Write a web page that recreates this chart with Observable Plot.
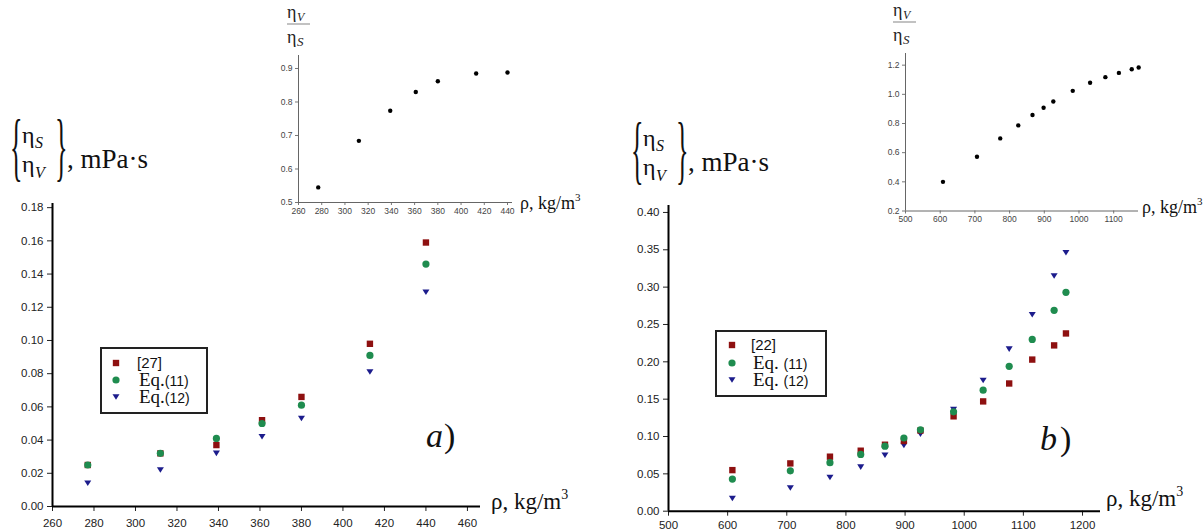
<!DOCTYPE html>
<html><head><meta charset="utf-8">
<script src="https://cdn.jsdelivr.net/npm/d3@7"></script>
<script src="https://cdn.jsdelivr.net/npm/@observablehq/plot@0.6"></script>
<style>
html,body{margin:0;padding:0;background:#fff;}
#root{position:relative;width:1204px;height:531px;overflow:hidden;background:#fff;}
.serif{font-family:"Liberation Serif","Times New Roman",Times,serif;}
.sans{font-family:"Liberation Sans",Arial,Helvetica,sans-serif;}
</style></head><body><div id="root"></div>
<script>
// ---- Panel a data ----
const rhoA = [277, 312, 339, 361, 380, 413, 440];
const ref27 = [0.025, 0.032, 0.037, 0.052, 0.066, 0.098, 0.159];
const eq11A = [0.025, 0.032, 0.041, 0.050, 0.061, 0.091, 0.146];
const eq12A = [0.014, 0.022, 0.032, 0.042, 0.053, 0.081, 0.129];
const ratioA = [0.545, 0.684, 0.774, 0.830, 0.862, 0.885, 0.888];
const xTicksA = [260, 280, 300, 320, 340, 360, 380, 400, 420, 440, 460];
const yTicksA = [0, 0.02, 0.04, 0.06, 0.08, 0.10, 0.12, 0.14, 0.16, 0.18];
const xTicksInsetA = [260, 280, 300, 320, 340, 360, 380, 400, 420, 440];
const yTicksInsetA = [0.5, 0.6, 0.7, 0.8, 0.9];
const legendA = ["[27]", "Eq.", "(11)", "Eq.", "(12)"];

// ---- Panel b data ----
const rhoB = [608, 706, 773, 825, 866, 898, 926, 982, 1032, 1076, 1115, 1152, 1172];
const ref22 = [0.055, 0.064, 0.073, 0.081, 0.089, 0.094, 0.108, 0.127, 0.147, 0.171, 0.203, 0.222, 0.238];
const eq11B = [0.043, 0.054, 0.065, 0.076, 0.087, 0.098, 0.109, 0.133, 0.162, 0.194, 0.230, 0.269, 0.293];
const eq12B = [0.017, 0.031, 0.045, 0.059, 0.075, 0.088, 0.103, 0.136, 0.175, 0.217, 0.263, 0.315, 0.346];
const ratioB = [0.40, 0.572, 0.698, 0.787, 0.858, 0.908, 0.951, 1.024, 1.079, 1.118, 1.147, 1.172, 1.184];
const xTicksB = [500, 600, 700, 800, 900, 1000, 1100, 1200];
const yTicksB = [0, 0.05, 0.10, 0.15, 0.20, 0.25, 0.30, 0.35, 0.40];
const xTicksInsetB = [500, 600, 700, 800, 900, 1000, 1100];
const yTicksInsetB = [0.2, 0.4, 0.6, 0.8, 1.0, 1.2];
const legendB = ["[22]", "Eq. ", "(11)", "Eq. ", "(12)"];

const COL = {sq: "#8e1010", ci: "#1f8c4f", tr: "#1c1c8c"};
const SANS = '"Liberation Sans", Arial, Helvetica, sans-serif';
const root = document.getElementById("root");

const triDown = {draw(ctx, size) {
  const s = Math.sqrt(size);
  const hw = 0.66 * s, hh = 0.52 * s;
  ctx.moveTo(-hw, -hh); ctx.lineTo(hw, -hh); ctx.lineTo(0, hh); ctx.closePath();
}};

function rows(xs, ys) { return xs.map((x, i) => ({x, y: ys[i]})); }

function place(el, left, top) {
  el.style.position = "absolute";
  el.style.left = left + "px";
  el.style.top = top + "px";
  el.style.margin = "0";
  el.classList.add("sans");
  root.appendChild(el);
}

function mainPlot(cfg) {
  return Plot.plot({
    width: cfg.w, height: cfg.h,
    marginLeft: cfg.ml, marginRight: cfg.mr, marginTop: cfg.mt, marginBottom: cfg.mb,
    x: {domain: cfg.xd},
    y: {domain: cfg.yd},
    style: {background: "transparent", fontFamily: SANS, fontSize: "11.5px", color: "#222", overflow: "visible"},
    marks: [
      Plot.axisX(cfg.xt, {tickSize: 5, tickPadding: cfg.xpad, tickFormat: d => String(d), label: null}),
      Plot.axisY(cfg.yt, {tickSize: 5, tickPadding: 4, tickFormat: d3.format(".2f"), label: null}),
      Plot.ruleX([cfg.xd[0]], {stroke: "#000", strokeWidth: 2}),
      Plot.ruleY([0], {stroke: "#000", strokeWidth: 2}),
      Plot.dot(rows(cfg.rho, cfg.s3), {x: "x", y: "y", symbol: triDown, r: 3, fill: COL.tr, stroke: null}),
      Plot.dot(rows(cfg.rho, cfg.s1), {x: "x", y: "y", symbol: "square", r: 3.6, fill: COL.sq, stroke: null}),
      Plot.dot(rows(cfg.rho, cfg.s2), {x: "x", y: "y", symbol: "circle", r: 3.6, fill: COL.ci, stroke: null})
    ]
  });
}

function insetPlot(cfg) {
  return Plot.plot({
    width: cfg.w, height: cfg.h,
    marginLeft: cfg.ml, marginRight: cfg.mr, marginTop: cfg.mt, marginBottom: cfg.mb,
    x: {domain: cfg.xd},
    y: {domain: cfg.yd},
    style: {background: "transparent", fontFamily: SANS, fontSize: "8.5px", color: "#444", overflow: "visible"},
    marks: [
      Plot.axisX(cfg.xt, {tickSize: 3, tickPadding: 2, tickFormat: d => String(d), label: null, stroke: "#777"}),
      Plot.axisY(cfg.yt, {tickSize: 3, tickPadding: 3, tickFormat: d3.format(".1f"), label: null, stroke: "#777"}),
      Plot.ruleX([cfg.xd[0]], {stroke: "#666", strokeWidth: 1}),
      Plot.ruleY([cfg.yd[0]], {stroke: "#666", strokeWidth: 1}),
      Plot.dot(rows(cfg.rho, cfg.ratio), {x: "x", y: "y", r: 2.2, fill: "#000", stroke: null})
    ]
  });
}

// Main a
place(mainPlot({w: 600, h: 341, ml: 52, mr: 120, mt: 13, mb: 25,
  xd: [260, 466.3], yd: [0, 0.1825], xt: xTicksA, yt: yTicksA, xpad: 7,
  rho: rhoA, s1: ref27, s2: eq11A, s3: eq12A}), 0, 190);
// Main b
place(mainPlot({w: 604, h: 341, ml: 68, mr: 104, mt: 15, mb: 20.3,
  xd: [500, 1230.4], yd: [0, 0.4093], xt: xTicksB, yt: yTicksB, xpad: 5,
  rho: rhoB, s1: ref22, s2: eq11B, s3: eq12B}), 600, 190);
// Inset a
place(insetPlot({w: 300, h: 170, ml: 68, mr: 18, mt: 5, mb: 18,
  xd: [260, 444.3], yd: [0.5, 0.9388], xt: xTicksInsetA, yt: yTicksInsetA,
  rho: rhoA, ratio: ratioA}), 230, 50);
// Inset b
place(insetPlot({w: 364, h: 191, ml: 65, mr: 66, mt: 13, mb: 20.5,
  xd: [500, 1171.5], yd: [0.2, 1.28], xt: xTicksInsetB, yt: yTicksInsetB,
  rho: rhoB, ratio: ratioB}), 840, 40);

// ---- Overlay annotations ----
const svg = d3.create("svg").attr("width", 1204).attr("height", 531)
  .style("position", "absolute").style("left", "0").style("top", "0").style("pointer-events", "none");
root.appendChild(svg.node());

function txt(x, y, s, size, opts = {}) {
  const t = svg.append("text").attr("x", x).attr("y", y)
    .attr("class", opts.sans ? "sans" : "serif")
    .style("font-size", size + "px").attr("fill", opts.fill || "#111")
    .style("font-style", opts.italic ? "italic" : "normal").text(s);
  return t;
}
function brace(ch, x, y) {
  svg.append("text").attr("transform", `translate(${x},${y}) scale(1,2.9)`)
    .attr("class", "serif").style("font-size", "26px").attr("fill", "#111").text(ch);
}
function yLabel(x0, yTop) {
  brace("{", x0, yTop + 52);
  txt(x0 + 12, yTop + 23, "η", 24);
  txt(x0 + 25, yTop + 28, "S", 16, {italic: true});
  txt(x0 + 12, yTop + 52, "η", 24);
  txt(x0 + 25, yTop + 58, "V", 16, {italic: true});
  brace("}", x0 + 45, yTop + 52);
  txt(x0 + 57, yTop + 48, ", mPa·s", 27);
}
yLabel(10, 120);
yLabel(631, 123);

function rhoLabel(x, y, size, sup, dy) {
  const t = txt(x, y, "ρ, kg/m", size);
  t.append("tspan").attr("dy", -dy).style("font-size", sup + "px").text("3");
}
rhoLabel(491, 509, 23, 14, 10);
rhoLabel(1106, 506, 23, 14, 10);
rhoLabel(520, 209, 18, 11, 8);
rhoLabel(1142, 213, 18, 11, 8);

function frac(x, yTop) {
  txt(x, yTop, "η", 18, {fill: "#222"});
  txt(x + 10, yTop + 3, "V", 12, {italic: true, fill: "#222"});
  svg.append("line").attr("x1", x).attr("x2", x + 23).attr("y1", yTop + 6).attr("y2", yTop + 6)
    .attr("stroke", "#999").attr("stroke-width", 1.2);
  txt(x, yTop + 25, "η", 18, {fill: "#222"});
  txt(x + 10, yTop + 28, "S", 13, {italic: true, fill: "#222"});
}
frac(287, 18);
frac(893, 16);

function legend(bx, by, bw, bh, rowsY, labels, symX, textX) {
  svg.append("rect").attr("x", bx).attr("y", by).attr("width", bw).attr("height", bh)
    .attr("fill", "none").attr("stroke", "#222").attr("stroke-width", 2);
  const sq = d3.symbol(d3.symbolSquare, Math.PI * 3.6 * 3.6)();
  const ci = d3.symbol(d3.symbolCircle, Math.PI * 3.6 * 3.6)();
  const tr = d3.symbol(triDown, Math.PI * 9)();
  [[sq, COL.sq], [ci, COL.ci], [tr, COL.tr]].forEach(([p, c], i) => {
    svg.append("path").attr("d", p).attr("fill", c).attr("transform", `translate(${symX},${rowsY[i]})`);
  });
  txt(textX - 2, rowsY[0] + 5, labels[0], 15, {sans: true});
  for (let k = 0; k < 2; k++) {
    const t = txt(textX, rowsY[k + 1] + 6, labels[1 + 2 * k], 19);
    t.append("tspan").attr("class", "sans").style("font-size", "14px").style("font-style", "normal").text(labels[2 + 2 * k]);
  }
}
legend(101, 348, 106, 65, [363, 380, 397], legendA, 116, 139);
legend(716, 331, 110, 65, [345, 363, 380], legendB, 732, 753);

function panelTag(x, y, letter, px) {
  txt(x, y, letter, 34, {italic: true});
  txt(px, y, ")", 34);
}
panelTag(426, 447, "a", 444);
panelTag(1040, 450, "b", 1060);
</script></body></html>
